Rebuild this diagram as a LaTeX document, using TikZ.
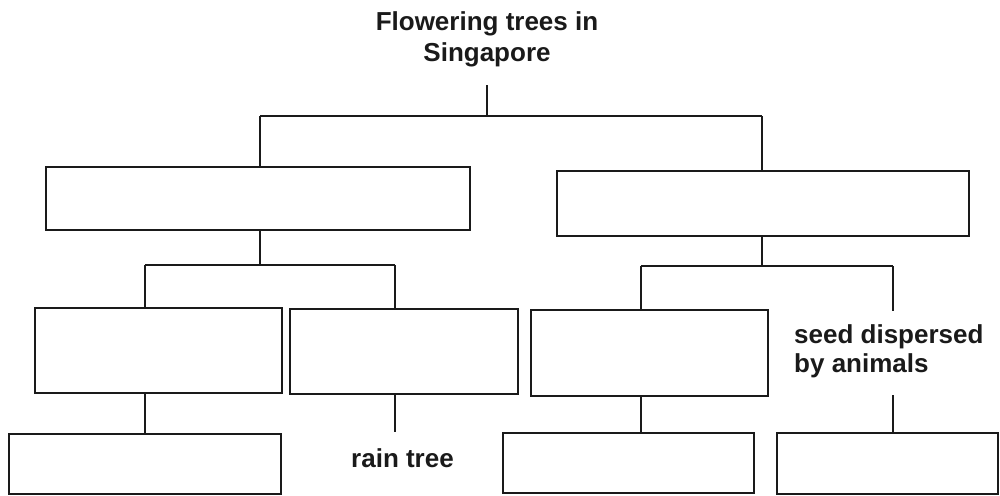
\documentclass[tikz,border=0pt]{standalone}
\usepackage{fontspec}
\setmainfont{Liberation Sans}
\definecolor{ink}{HTML}{1A1A1A}
\begin{document}
\begin{tikzpicture}[x=1pt,y=-1pt,
  line/.style={draw=ink,line width=2.2pt},
  box/.style={draw=ink,line width=2.5pt,rectangle,inner sep=0pt,outer sep=0pt},
  lbl/.style={text=ink,inner sep=0pt,font=\bfseries\fontsize{26}{31}\selectfont}]
\useasboundingbox[fill=white] (0,0) rectangle (1000,495);
% title (anchor base = baseline of the last line)
\node[lbl,align=center,anchor=base] (title) at (487,61) {Flowering trees in\\Singapore};
% boxes
\node[box,minimum width=424,minimum height=63] (A) at (258,198.5) {};
\node[box,minimum width=412,minimum height=65] (B) at (763,203.5) {};
\node[box,minimum width=247,minimum height=85] (C) at (158.5,350.5) {};
\node[box,minimum width=228,minimum height=85] (D) at (404,351.5) {};
\node[box,minimum width=237,minimum height=86] (E) at (649.5,353) {};
\node[box,minimum width=272,minimum height=60] (F) at (145,464) {};
\node[box,minimum width=251,minimum height=60] (G) at (628.5,463) {};
\node[box,minimum width=221,minimum height=61] (H) at (887.5,463.5) {};
% texts
\node[lbl,font=\bfseries\fontsize{26}{29}\selectfont,align=left,anchor=base west] (seed) at (794,372) {seed dispersed\\by animals};
\node[lbl,anchor=base west] (rain) at (351,467) {rain tree};
% junction coordinates
\coordinate (tfoot) at (487,85);
\coordinate (j0) at (487,116);
\coordinate (jA) at (260,116);
\coordinate (jB) at (762,116);
\coordinate (kA) at (260,265);
\coordinate (jC) at (145,265);
\coordinate (jD) at (395,265);
\coordinate (kB) at (762,266);
\coordinate (jE) at (641,266);
\coordinate (jS) at (893,266);
\coordinate (sTop) at (893,311);
\coordinate (sBot) at (893,395);
\coordinate (rTop) at (395,432);
% connectors
\draw[line] (tfoot) -- (j0);
\draw[line] (jA) -- (jB);
\draw[line] (jA) -- (jA |- A.north);
\draw[line] (jB) -- (jB |- B.north);
\draw[line] (kA |- A.south) -- (kA);
\draw[line] (jC) -- (jD);
\draw[line] (jC) -- (jC |- C.north);
\draw[line] (jD) -- (jD |- D.north);
\draw[line] (kB |- B.south) -- (kB);
\draw[line] (jE) -- (jS);
\draw[line] (jE) -- (jE |- E.north);
\draw[line] (jS) -- (sTop);
\draw[line] (jC |- C.south) -- (jC |- F.north);
\draw[line] (jD |- D.south) -- (rTop);
\draw[line] (jE |- E.south) -- (jE |- G.north);
\draw[line] (sBot) -- (sBot |- H.north);
\end{tikzpicture}
\end{document}
